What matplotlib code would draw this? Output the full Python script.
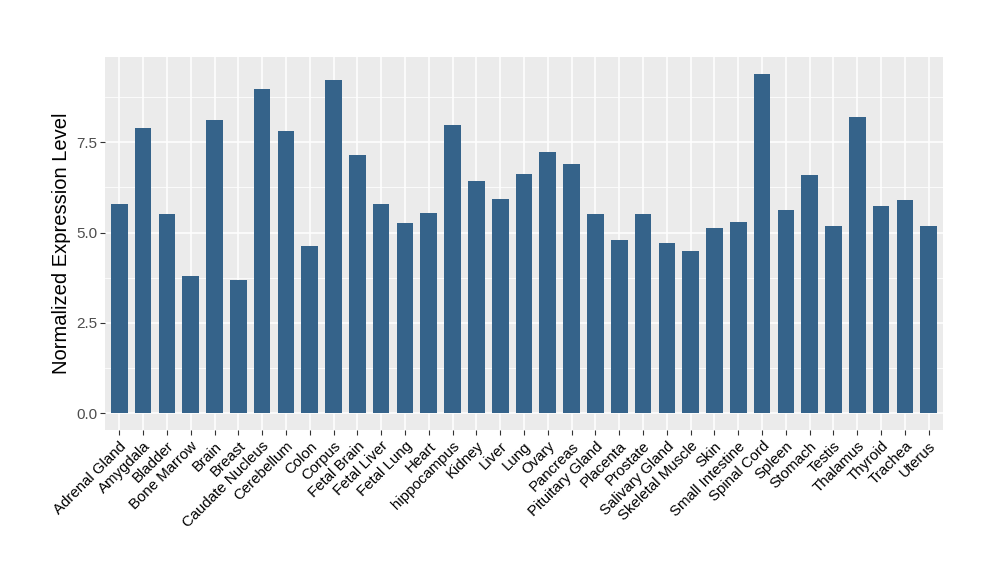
import numpy as np
import matplotlib.pyplot as plt

plt.rcParams['font.family'] = ['Liberation Sans', 'DejaVu Sans']

tissues = ['Adrenal Gland', 'Amygdala', 'Bladder', 'Bone Marrow', 'Brain', 'Breast',
           'Caudate Nucleus', 'Cerebellum', 'Colon', 'Corpus', 'Fetal Brain', 'Fetal Liver',
           'Fetal Lung', 'Heart', 'hippocampus', 'Kidney', 'Liver', 'Lung', 'Ovary',
           'Pancreas', 'Pituitary Gland', 'Placenta', 'Prostate', 'Salivary Gland',
           'Skeletal Muscle', 'Skin', 'Small Intestine', 'Spinal Cord', 'Spleen', 'Stomach',
           'Testis', 'Thalamus', 'Thyroid', 'Trachea', 'Uterus']
expression = [5.80, 7.89, 5.51, 3.81, 8.11, 3.68, 8.96, 7.80, 4.62, 9.21, 7.14, 5.78,
              5.26, 5.53, 7.97, 6.42, 5.92, 6.62, 7.22, 6.89, 5.51, 4.79, 5.51, 4.71,
              4.49, 5.12, 5.29, 9.38, 5.62, 6.59, 5.18, 8.19, 5.73, 5.90, 5.18]

y_ticks = [0.0, 2.5, 5.0, 7.5]
y_minor = [1.25, 3.75, 6.25, 8.75]


def main():
    fig = plt.figure(figsize=(10, 5.8), dpi=100)
    ax = fig.add_axes([0.105, 0.2586, 0.838, 0.6436])
    ax.set_facecolor('#EBEBEB')

    x = np.arange(len(tissues))
    ax.bar(x, expression, width=0.7, color='#35638A', zorder=3)

    ax.set_xlim(-0.6, len(tissues) - 0.4)
    ax.set_ylim(-0.46, 9.86)

    # ggplot-like grid
    ax.set_yticks(y_ticks)
    ax.set_yticks(y_minor, minor=True)
    ax.set_yticklabels(['0.0', '2.5', '5.0', '7.5'])
    ax.grid(which='major', color='white', linewidth=1.1, zorder=0)
    ax.grid(which='minor', axis='y', color='white', linewidth=0.55, zorder=0)
    ax.set_axisbelow(True)

    ax.set_xticks(x)
    ax.set_xticklabels(tissues, rotation=45, ha='right', rotation_mode='anchor',
                       fontsize=10.8, color='black')
    ax.tick_params(axis='x', length=3.5, color='#333333', pad=3)
    ax.tick_params(axis='y', which='major', length=3.5, color='#333333',
                   labelsize=11, labelcolor='#4D4D4D', pad=2)
    ax.tick_params(axis='y', which='minor', length=0)

    for s in ax.spines.values():
        s.set_visible(False)

    ax.set_ylabel('Normalized Expression Level', fontsize=14.5, labelpad=4)

    fig.savefig('out.png', dpi=100)


if __name__ == "__main__":
    main()
